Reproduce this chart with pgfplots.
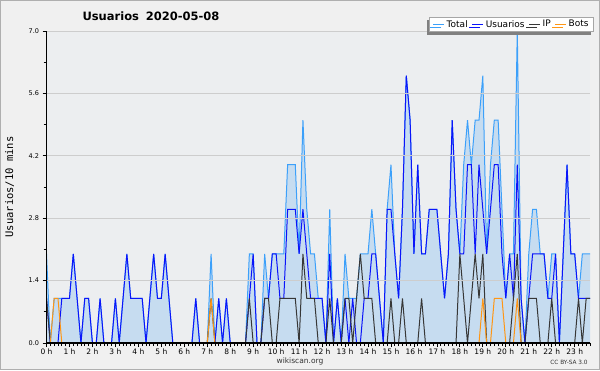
\documentclass[border=0pt]{standalone}
\usepackage{fontspec}
\setmainfont{DejaVu Sans}
\newfontfamily\monofont{DejaVu Sans Mono}
\usepackage{pgfplots}
\usepackage{pgfplotstable}
\usetikzlibrary{shadows}
\pgfplotsset{compat=1.18}
\definecolor{outerbg}{RGB}{240,240,240}
\definecolor{bordc}{RGB}{175,175,175}
\definecolor{plotbg}{RGB}{236,238,240}
\definecolor{tline}{RGB}{60,160,250}
\definecolor{tfill}{RGB}{198,220,240}
\definecolor{uline}{RGB}{10,20,250}
\definecolor{ipline}{RGB}{55,55,55}
\definecolor{botline}{RGB}{255,150,20}
\definecolor{gridc}{RGB}{205,205,205}
\pgfplotstableread{
i T U IP B
0 2 1 1 0
1 0 0 0 0
2 1 0 0 1
3 1 0 0 1
4 1 1 0 0
5 1 1 0 0
6 1 1 0 0
7 2 2 0 0
8 1 1 0 0
9 0 0 0 0
10 1 1 0 0
11 1 1 0 0
12 0 0 0 0
13 0 0 0 0
14 1 1 0 0
15 0 0 0 0
16 0 0 0 0
17 0 0 0 0
18 1 1 0 0
19 0 0 0 0
20 1 1 0 0
21 2 2 0 0
22 1 1 0 0
23 1 1 0 0
24 1 1 0 0
25 1 1 0 0
26 0 0 0 0
27 1 1 0 0
28 2 2 0 0
29 1 1 0 0
30 1 1 0 0
31 2 2 0 0
32 1 1 0 0
33 0 0 0 0
34 0 0 0 0
35 0 0 0 0
36 0 0 0 0
37 0 0 0 0
38 0 0 0 0
39 1 1 0 0
40 0 0 0 0
41 0 0 0 0
42 0 0 0 0
43 2 0 1 1
44 0 0 0 0
45 1 1 0 0
46 0 0 0 0
47 1 1 0 0
48 0 0 0 0
49 0 0 0 0
50 0 0 0 0
51 0 0 0 0
52 0 0 0 0
53 2 1 1 0
54 2 2 0 0
55 0 0 0 0
56 0 0 0 0
57 2 1 1 0
58 1 1 1 0
59 2 2 0 0
60 2 2 0 0
61 2 1 1 0
62 2 1 1 0
63 4 3 1 0
64 4 3 1 0
65 4 3 1 0
66 2 2 0 0
67 5 3 2 0
68 3 2 1 0
69 2 1 1 0
70 2 1 1 0
71 1 1 0 0
72 1 1 0 0
73 0 0 0 0
74 3 2 1 0
75 0 0 0 0
76 1 1 0 0
77 0 0 0 0
78 2 1 1 0
79 1 0 1 0
80 1 1 0 0
81 1 0 1 0
82 2 0 2 0
83 2 1 1 0
84 2 1 1 0
85 3 2 1 0
86 2 2 0 0
87 1 1 0 0
88 0 0 0 0
89 3 3 0 0
90 4 3 1 0
91 2 2 0 0
92 1 1 0 0
93 3 3 1 0
94 6 6 0 0
95 5 5 0 0
96 2 2 0 0
97 4 4 0 0
98 2 2 1 0
99 2 2 0 0
100 3 3 0 0
101 3 3 0 0
102 3 3 0 0
103 2 2 0 0
104 1 1 0 0
105 2 2 0 0
106 5 5 0 0
107 3 3 0 0
108 2 2 2 0
109 4 2 1 0
110 5 4 0 0
111 4 4 1 0
112 5 2 2 0
113 5 4 1 0
114 6 3 2 1
115 2 2 0 0
116 4 3 0 0
117 5 4 0 1
118 5 4 0 1
119 3 2 0 1
120 1 1 0 0
121 2 2 0 0
122 2 1 1 0
123 7 4 2 1
124 1 1 0 0
125 0 0 0 0
126 2 1 1 0
127 3 2 1 0
128 3 2 1 0
129 2 2 0 0
130 2 2 0 0
131 1 1 0 0
132 2 1 1 0
133 2 2 0 0
134 0 0 0 0
135 2 2 0 0
136 4 4 0 0
137 2 2 0 0
138 2 2 0 0
139 1 1 1 0
140 2 1 0 0
141 2 1 1 0
142 2 1 1 0
}\datatable
\begin{document}
\begin{tikzpicture}[x=1pt,y=1pt]
\useasboundingbox (0pt,0pt) rectangle (600pt,370pt);
\draw[bordc, fill=outerbg, line width=1pt] (0.5pt,0.5pt) rectangle (599.5pt,369.5pt);
\begin{axis}[
  at={(46.5pt,27pt)}, anchor=south west,
  scale only axis, width=543.5pt, height=312pt,
  xmin=0, xmax=142, ymin=0, ymax=7,
  axis background/.style={fill=plotbg},
  axis on top,
  axis x line*=bottom, axis y line*=left,
  axis line style={black, line width=1.3pt, -},
  ytick={0,1.4,2.8,4.2,5.6,7},
  minor ytick={0.7,2.1,3.5,4.9,6.3},
  ymajorgrids, grid style={gridc, line width=0.8pt},
  yticklabel style={font=\fontsize{6.5}{7}\selectfont, /pgf/number format/fixed, /pgf/number format/fixed zerofill, /pgf/number format/precision=1, /pgf/number format/assume math mode=true},
  xtick={0,6,...,138},
  xticklabels={0 h,1 h,2 h,3 h,4 h,5 h,6 h,7 h,8 h,9 h,10 h,11 h,12 h,13 h,14 h,15 h,16 h,17 h,18 h,19 h,20 h,21 h,22 h,23 h},
  minor xtick={0,1,...,142},
  xticklabel style={font=\fontsize{7.5}{8}\selectfont, yshift=1.5pt},
  tick style={black, line width=0.8pt},
  major tick length=4pt, minor tick length=3pt,
  tick align=outside,
  ylabel={Usuarios/10 mins},
  ylabel style={font=\monofont\fontsize{10.5}{11}\selectfont, at={(axis description cs:-0.068,0.5)}, anchor=center},
  clip=false,
  legend columns=4,
  legend style={at={(1.0074,0.9968)}, anchor=south east, draw=gray!70, fill=white, line width=0.8pt,
    font=\fontsize{9}{10}\selectfont, inner xsep=3pt, inner ysep=1pt,
    drop shadow={shadow xshift=-3pt, shadow yshift=-3pt, fill=gray, opacity=1},
    /tikz/every even column/.append style={column sep=2pt}},
  legend image code/.code={\draw[#1, line width=1pt] (0pt,0pt) -- (11pt,0pt);},
]
\addplot[draw=none, fill=tfill, forget plot] table[x=i, y=T] {\datatable} \closedcycle;
\addplot[tline, line width=1pt] table[x=i, y=T] {\datatable};
\addlegendentry{Total}
\addplot[uline, line width=1pt] table[x=i, y=U] {\datatable};
\addlegendentry{Usuarios}
\addplot[ipline, line width=1pt] table[x=i, y=IP] {\datatable};
\addlegendentry{IP}
\addplot[botline, line width=1pt] table[x=i, y=B] {\datatable};
\addlegendentry{Bots}
\end{axis}
\node[font=\bfseries\fontsize{11.5}{13}\selectfont] at (151pt,354pt) {Usuarios\hspace{0.6em}2020-05-08};
\node[font=\fontsize{7.5}{8}\selectfont, text=black!80] at (300pt,9pt) {wikiscan.org};
\node[font=\fontsize{5.8}{6}\selectfont, text=black!80] at (569pt,8pt) {CC BY-SA 3.0};
\end{tikzpicture}
\end{document}
